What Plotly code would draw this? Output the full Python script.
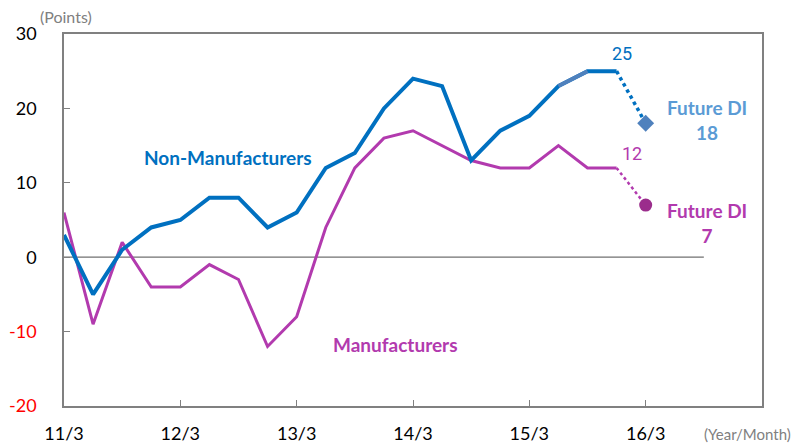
import plotly.graph_objects as go

# ---- data ----
quarters = list(range(20))  # 0 = 2011/3, quarterly
non_manufacturers = [3, -5, 1, 4, 5, 8, 8, 4, 6, 12, 14, 20, 24, 23, 13, 17, 19, 23, 25, 25]
manufacturers = [6, -9, 2, -4, -4, -1, -3, -12, -8, 4, 12, 16, 17, 15, 13, 12, 12, 15, 12, 12]
future_x = 20
future_non_manu = 18
future_manu = 7
tick_vals_x = [0, 4, 8, 12, 16, 20]
tick_text_x = ["11/3", "12/3", "13/3", "14/3", "15/3", "16/3"]
tick_vals_y = [-20, -10, 0, 10, 20, 30]

BLUE = "#0070C0"
BLUE_LIGHT = "#4F81BD"
MAG = "#B23AAE"
MAG_DARK = "#9B2D8C"
FDI_BLUE = "#5B9BD5"
GRAY = "#808080"
FONT = "Lato"

fig = go.Figure()

# zero line
fig.add_shape(type="line", x0=0, x1=22, y0=0, y1=0, xref="x", yref="y",
              line=dict(color="#707070", width=1.3), layer="below")

# manufacturers
fig.add_trace(go.Scatter(x=quarters, y=manufacturers, mode="lines",
                         line=dict(color=MAG, width=3)))
fig.add_trace(go.Scatter(x=[quarters[-1], future_x], y=[manufacturers[-1], future_manu],
                         mode="lines", line=dict(color=MAG, width=2.5, dash="dot")))
fig.add_trace(go.Scatter(x=[future_x], y=[future_manu], mode="markers",
                         marker=dict(color=MAG_DARK, size=13, symbol="circle")))

# non-manufacturers
fig.add_trace(go.Scatter(x=quarters, y=non_manufacturers, mode="lines",
                         line=dict(color=BLUE, width=4)))
fig.add_trace(go.Scatter(x=quarters[17:19], y=non_manufacturers[17:19], mode="lines",
                         line=dict(color=BLUE_LIGHT, width=4)))
fig.add_trace(go.Scatter(x=[quarters[-1], future_x], y=[non_manufacturers[-1], future_non_manu],
                         mode="lines", line=dict(color=BLUE, width=3.5, dash="dot")))
fig.add_trace(go.Scatter(x=[future_x], y=[future_non_manu], mode="markers",
                         marker=dict(color=BLUE_LIGHT, size=13, symbol="diamond")))

ann = [
    dict(x=5.64, y=13.4, text="<b>Non-Manufacturers</b>", font=dict(color=BLUE, size=19, family=FONT)),
    dict(x=11.41, y=-11.8, text="<b>Manufacturers</b>", font=dict(color=MAG, size=19, family=FONT)),
    dict(x=19.17, y=27.4, text=str(non_manufacturers[-1]), font=dict(color=BLUE, size=18, family="Roboto")),
    dict(x=19.52, y=14.0, text=str(manufacturers[-1]), font=dict(color=MAG, size=18, family="Roboto")),
    dict(x=22.1, y=18.5, text="<b>Future DI</b><br><b>%d</b>" % future_non_manu,
         font=dict(color=FDI_BLUE, size=19, family=FONT)),
    dict(x=22.1, y=4.6, text="<b>Future DI</b><br><b>%d</b>" % future_manu,
         font=dict(color=MAG, size=19, family=FONT)),
]
for a in ann:
    fig.add_annotation(xref="x", yref="y", showarrow=False, xanchor="center", yanchor="middle", **a)

fig.add_annotation(xref="paper", yref="paper", x=-0.037, y=1.016, xanchor="left", yanchor="bottom",
                   text="(Points)", showarrow=False, font=dict(color=GRAY, size=16, family=FONT))
fig.add_annotation(xref="paper", yref="paper", x=1.045, y=-0.075, xanchor="right", yanchor="middle",
                   text="(Year/Month)", showarrow=False, font=dict(color=GRAY, size=15, family=FONT))

ytext = []
for v in tick_vals_y:
    if v < 0:
        ytext.append('<span style="color:#FF0000">%d</span>' % v)
    else:
        ytext.append(str(v))

fig.update_layout(
    width=798, height=445,
    margin=dict(l=64, r=36, t=34, b=39, autoexpand=False),
    paper_bgcolor="white", plot_bgcolor="white",
    showlegend=False,
    font=dict(family=FONT, size=18, color="black"),
    xaxis=dict(range=[0, 24], tickvals=tick_vals_x, ticktext=tick_text_x, automargin=False,
               showgrid=False, zeroline=False, showline=True, linecolor=GRAY, linewidth=1.5,
               mirror=True, ticks="inside", ticklen=6, tickcolor=GRAY, tickwidth=1.3,
               ticklabelstandoff=11, tickfont=dict(size=18, family=FONT)),
    yaxis=dict(range=[-20, 30], tickvals=tick_vals_y, ticktext=ytext, automargin=False,
               showgrid=False, zeroline=False, showline=True, linecolor=GRAY, linewidth=1.5,
               mirror=True, ticks="inside", ticklen=6, tickcolor=GRAY, tickwidth=1.3,
               ticklabelstandoff=22, tickfont=dict(size=18, family=FONT)),
)

fig.write_html("out.html", config={"displayModeBar": False},
               post_script="document.body.style.margin='0';document.body.style.padding='0';")
